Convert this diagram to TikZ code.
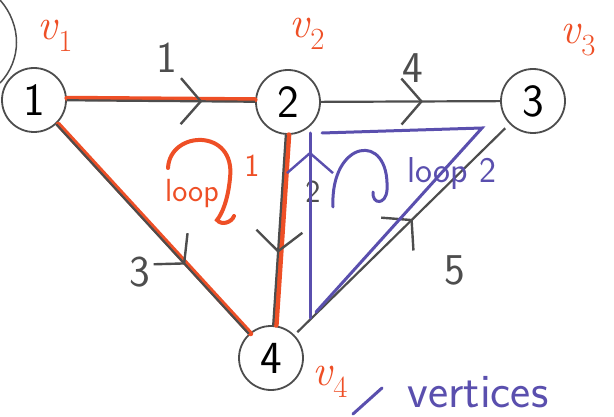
\documentclass[tikz,border=0pt]{standalone}
\usepackage{fontspec}
\usepackage{xcolor}
\usepackage{tikz}
\usetikzlibrary{arrows.meta,decorations.markings}
\definecolor{penred}{HTML}{EE4F26}
\definecolor{penblue}{HTML}{5A4FAE}
\definecolor{pengray}{HTML}{4D4D4D}
\tikzset{
  vx/.style={circle,draw=pengray,line width=1.8pt,minimum size=64pt,inner sep=0pt,font=\sffamily\fontsize{46}{46}\selectfont},
  ed/.style={pengray,line width=2.2pt},
  hl/.style={penred,line width=5pt,line cap=round},
  lp/.style={penblue,line width=3pt,line cap=round},
  wt/.style={pengray,font=\sffamily\fontsize{44}{44}\selectfont},
  vl/.style={penred,font=\fontsize{44}{44}\selectfont},
  midar/.style={postaction={decorate},decoration={markings,mark=at position #1 with {\arrow{Straight Barb[length=20pt,width=46pt,line width=2.4pt]}}}}
}
\newcommand{\vname}[1]{\textit{v}\textsubscript{#1}}
\begin{document}
\begin{tikzpicture}[x=1pt,y=-1pt]
\useasboundingbox (0,0) rectangle (614,417);
% vertices and their names
\node[vx] (n1) at (34,100) {1};
\node[vx] (n2) at (288,102) {2};
\node[vx] (n3) at (533,101) {3};
\node[vx] (n4) at (271,358) {4};
\node[vl] (v1) at (55,36) {\vname{1}};
\node[vl] (v2) at (307,34) {\vname{2}};
\node[vl] (v3) at (578,40) {\vname{3}};
\node[vl] (v4) at (330,382) {\vname{4}};
% red marker under loop 1
\draw[hl,transform canvas={yshift=2pt}] (n1) -- (n2);
\draw[hl,transform canvas={xshift=2pt}] (n1) -- (n4);
\draw[hl,transform canvas={xshift=3pt}] (n2) -- (n4);
% edges
\draw[ed,midar=0.72] (n1) -- (n2);
\draw[ed,midar=0.57] (n2) -- (n3);
\draw[ed,midar=0.67] (n1) -- (n4);
\draw[ed,midar=0.62] (n2) -- (n4);
\draw[ed,midar=0.55,shorten <=4pt,shorten >=6pt] (n4) -- (n3);
\node[wt] (w1) at (167,58) {1};
\node[wt] (w4) at (413,68) {4};
\node[wt] (w3) at (140,272) {3};
\node[wt,font=\sffamily\fontsize{32}{32}\selectfont] (w2) at (313,192) {2};
\node[wt] (w5) at (455,270) {5};
% loop 2, blue
\coordinate (b1) at (310,318);
\coordinate (b2) at (310,133);
\coordinate (b3) at (322,133);
\coordinate (b4) at (482,128);
\coordinate (b5) at (316,312);
\draw[lp,midar=0.9] (b1) -- (b2);
\draw[lp] (b3) -- (b4) -- (b5);
\draw[lp] (333,207) .. controls (330,140) and (390,130) .. (387,190) .. controls (386,205) and (372,205) .. (373,192);
\node[penblue,font=\sffamily\fontsize{36}{36}\selectfont] (lp2) at (452,174) {loop 2};
% loop 1, red
\draw[hl,line width=4pt] (168,168) .. controls (170,130) and (236,128) .. (230,178) .. controls (228,200) and (222,214) .. (217,220) .. controls (222,226) and (232,222) .. (234,216);
\node[penred,font=\sffamily\fontsize{32}{32}\selectfont] (lp1) at (192,194) {loop};
\node[penred,font=\sffamily\fontsize{32}{32}\selectfont] (lp1n) at (252,166) {1};
% key
\draw[lp] (353,414) -- (382,388);
\node[penblue,font=\sffamily\fontsize{48}{48}\selectfont] (vt) at (478,392) {vertices};
\draw[pengray,line width=1.5pt] (0,0) .. controls (22,25) and (22,60) .. (0,83);
\end{tikzpicture}
\end{document}
